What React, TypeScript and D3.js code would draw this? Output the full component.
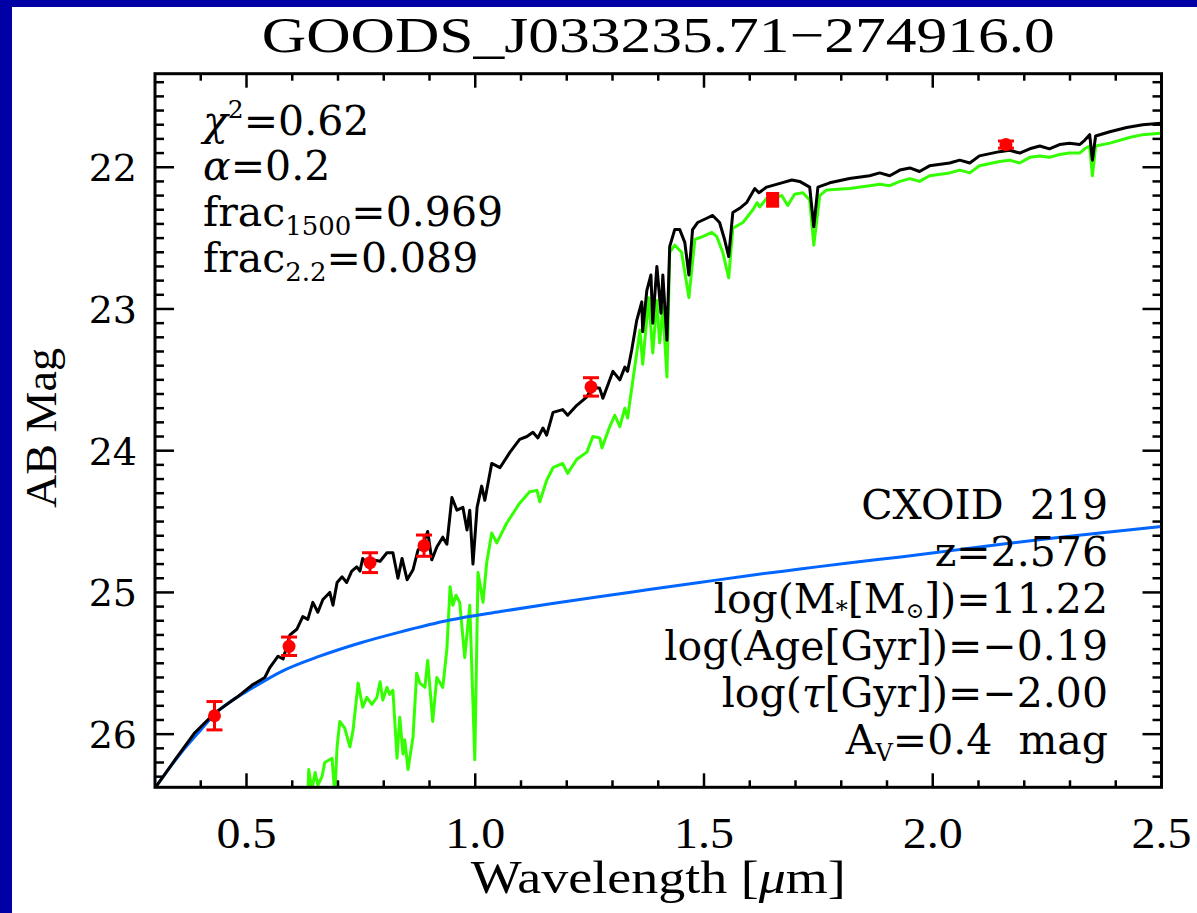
import React from 'react';
import * as d3 from 'd3';

// ---------- DATA ----------
const title = 'GOODS_J033235.71\u2212274916.0';
const xLabel = 'Wavelength [';
const yLabel = 'AB Mag';
const xDomain: [number, number] = [0.3, 2.5];
const yDomain: [number, number] = [21.34, 26.375];
const xMajorTicks = [0.5, 1.0, 1.5, 2.0, 2.5];
const xTickLabels = ['0.5', '1.0', '1.5', '2.0', '2.5'];
const yMajorTicks = [22, 23, 24, 25, 26];
const yTickLabels = ['22', '23', '24', '25', '26'];

// total model (black): [wavelength um, AB mag]
const totalModel: [number, number][] = [
  [0.300, 26.38], [0.344, 26.18], [0.387, 25.99], [0.431, 25.85], [0.479, 25.74], [0.514, 25.65],
  [0.540, 25.60], [0.551, 25.53], [0.569, 25.45], [0.580, 25.47], [0.595, 25.30], [0.610, 25.26],
  [0.623, 25.17], [0.634, 25.19], [0.645, 25.07], [0.656, 25.14], [0.667, 25.05], [0.682, 25.00],
  [0.689, 25.09], [0.698, 24.93], [0.709, 24.89], [0.719, 24.93], [0.730, 24.85], [0.741, 24.82],
  [0.748, 24.85], [0.754, 24.76], [0.763, 24.80], [0.774, 24.77], [0.792, 24.78], [0.807, 24.72],
  [0.820, 24.72], [0.831, 24.90], [0.840, 24.76], [0.851, 24.91], [0.864, 24.84], [0.875, 24.70],
  [0.886, 24.66], [0.896, 24.57], [0.905, 24.77], [0.916, 24.68], [0.929, 24.61], [0.938, 24.66],
  [0.949, 24.33], [0.960, 24.42], [0.973, 24.40], [0.982, 24.56], [0.988, 24.42], [0.995, 24.80],
  [1.004, 24.40], [1.014, 24.25], [1.021, 24.35], [1.036, 24.09], [1.054, 24.12], [1.076, 24.01],
  [1.097, 23.92], [1.113, 23.90], [1.126, 23.87], [1.137, 23.91], [1.148, 23.84], [1.156, 23.89],
  [1.170, 23.73], [1.191, 23.71], [1.202, 23.75], [1.222, 23.68], [1.244, 23.62], [1.255, 23.55],
  [1.272, 23.56], [1.279, 23.63], [1.301, 23.44], [1.316, 23.50], [1.327, 23.41], [1.333, 23.44],
  [1.342, 23.29], [1.353, 23.08], [1.364, 22.95], [1.366, 23.16], [1.375, 22.87], [1.384, 22.76],
  [1.388, 23.10], [1.397, 22.70], [1.406, 23.03], [1.410, 22.76], [1.419, 23.22], [1.425, 22.56],
  [1.436, 22.44], [1.447, 22.44], [1.458, 22.53], [1.467, 22.76], [1.475, 22.44], [1.486, 22.39],
  [1.506, 22.36], [1.519, 22.34], [1.534, 22.39], [1.545, 22.51], [1.554, 22.63], [1.563, 22.32],
  [1.578, 22.29], [1.593, 22.25], [1.611, 22.15], [1.620, 22.18], [1.637, 22.14], [1.670, 22.11],
  [1.692, 22.09], [1.709, 22.10], [1.731, 22.14], [1.740, 22.42], [1.749, 22.14], [1.775, 22.11],
  [1.818, 22.08], [1.862, 22.06], [1.884, 22.04], [1.906, 22.06], [1.928, 22.02], [1.950, 22.005],
  [1.971, 22.03], [1.993, 21.99], [2.037, 21.97], [2.059, 21.95], [2.081, 21.97], [2.102, 21.92],
  [2.146, 21.89], [2.168, 21.88], [2.190, 21.90], [2.212, 21.87], [2.234, 21.85], [2.255, 21.87],
  [2.277, 21.84], [2.299, 21.83], [2.321, 21.84], [2.332, 21.81], [2.343, 21.77], [2.349, 21.95],
  [2.356, 21.78], [2.387, 21.75], [2.424, 21.72], [2.459, 21.70], [2.498, 21.69],
];

// stellar component (green)
const stellarModel: [number, number][] = [
  [0.634, 26.45], [0.636, 26.25], [0.643, 26.39], [0.650, 26.27], [0.656, 26.36], [0.665, 26.30],
  [0.671, 26.20], [0.687, 26.17], [0.693, 26.43], [0.698, 26.09], [0.704, 25.91], [0.715, 25.96],
  [0.726, 26.09], [0.733, 25.97], [0.744, 25.64], [0.754, 25.81], [0.763, 25.74], [0.774, 25.79],
  [0.785, 25.74], [0.792, 25.63], [0.798, 25.76], [0.807, 25.67], [0.813, 25.72], [0.820, 25.69],
  [0.829, 26.17], [0.835, 25.88], [0.842, 26.14], [0.846, 26.04], [0.853, 26.25], [0.864, 26.02],
  [0.872, 25.57], [0.879, 25.64], [0.890, 25.67], [0.896, 25.48], [0.907, 25.91], [0.916, 25.60],
  [0.929, 25.67], [0.938, 25.40], [0.945, 24.96], [0.951, 25.09], [0.958, 25.02], [0.966, 25.07],
  [0.977, 25.46], [0.988, 25.09], [0.999, 26.18], [1.006, 24.86], [1.017, 25.07], [1.025, 24.79],
  [1.036, 24.58], [1.047, 24.65], [1.069, 24.51], [1.087, 24.42], [1.097, 24.37], [1.119, 24.29],
  [1.135, 24.28], [1.141, 24.36], [1.156, 24.21], [1.170, 24.12], [1.191, 24.09], [1.202, 24.16],
  [1.222, 24.06], [1.244, 24.01], [1.257, 23.90], [1.272, 23.91], [1.277, 23.98], [1.294, 23.83],
  [1.305, 23.75], [1.316, 23.83], [1.327, 23.70], [1.333, 23.77], [1.342, 23.56], [1.360, 23.15],
  [1.366, 23.39], [1.379, 22.92], [1.388, 23.31], [1.397, 22.94], [1.403, 23.24], [1.410, 22.99],
  [1.419, 23.48], [1.425, 22.60], [1.436, 22.55], [1.451, 22.60], [1.467, 22.92], [1.480, 22.51],
  [1.497, 22.49], [1.517, 22.46], [1.528, 22.49], [1.541, 22.60], [1.554, 22.78], [1.563, 22.43],
  [1.585, 22.39], [1.607, 22.30], [1.616, 22.25], [1.622, 22.28], [1.637, 22.22], [1.650, 22.22],
  [1.670, 22.20], [1.683, 22.27], [1.698, 22.19], [1.716, 22.18], [1.731, 22.23], [1.740, 22.55],
  [1.753, 22.20], [1.768, 22.16], [1.818, 22.15], [1.862, 22.13], [1.884, 22.12], [1.906, 22.13],
  [1.928, 22.10], [1.950, 22.08], [1.971, 22.10], [1.993, 22.06], [2.037, 22.04], [2.059, 22.02],
  [2.081, 22.04], [2.102, 21.99], [2.146, 21.96], [2.168, 21.95], [2.190, 21.97], [2.212, 21.93],
  [2.234, 21.92], [2.255, 21.93], [2.277, 21.91], [2.299, 21.90], [2.321, 21.90], [2.332, 21.87],
  [2.343, 21.85], [2.349, 22.06], [2.356, 21.85], [2.387, 21.83], [2.430, 21.79], [2.459, 21.77],
  [2.498, 21.76],
];

// AGN power-law component (blue)
const agnModel: [number, number][] = [
  [0.300, 26.38], [0.355, 26.14], [0.400, 25.97], [0.430, 25.86], [0.465, 25.77], [0.510, 25.68],
  [0.575, 25.56], [0.660, 25.45], [0.750, 25.355], [0.835, 25.28], [0.945, 25.195], [1.055, 25.135],
  [1.165, 25.08], [1.270, 25.03], [1.380, 24.98], [1.490, 24.93], [1.600, 24.88], [1.710, 24.835],
  [1.820, 24.79], [1.930, 24.75], [2.040, 24.705], [2.150, 24.66], [2.255, 24.62], [2.365, 24.58],
  [2.500, 24.535],
];

// photometry
const photWave = [0.430, 0.593, 0.770, 0.888, 1.253, 1.650, 2.160];
const photMag = [25.87, 25.38, 24.79, 24.67, 23.55, 22.23, 21.84];
const photErr = [0.10, 0.065, 0.07, 0.075, 0.065, 0.045, 0.025];
const photShape = ['circle', 'circle', 'circle', 'circle', 'circle', 'square', 'circle'];

// ---------- LAYOUT ----------
const W = 1197, H = 913;
const X0 = 155, X1 = 1161.5, Y0 = 73.7, Y1 = 787.3;
const C_BLACK = '#000000', C_GREEN = '#33ff00', C_BLUE = '#0066ff', C_RED = '#ff0000', C_BG = '#0000a4';
const hershey = '"Liberation Serif", serif';
const school = '"DejaVu Serif", serif';

export default function App() {
  const x = d3.scaleLinear().domain(xDomain).range([X0, X1]);
  const y = d3.scaleLinear().domain(yDomain).range([Y0, Y1]);
  const line = d3.line<[number, number]>().x(d => x(d[0])).y(d => y(d[1]));
  const smooth = d3.line<[number, number]>().x(d => x(d[0])).y(d => y(d[1])).curve(d3.curveMonotoneX);

  const xMinor = d3.range(4, 25).map(v => v / 10).filter(v => !xMajorTicks.some(m => Math.abs(m - v) < 1e-6));
  const yMinor = d3.range(214, 264).map(v => v / 10).filter(v => !yMajorTicks.some(m => Math.abs(m - v) < 1e-6));

  return (
    <svg width={W} height={H} style={{ position: 'absolute', left: 0, top: 0, background: '#fff' }}>
      <rect x={0} y={0} width={W} height={H} fill="#fff" />
      <rect x={0} y={0} width={12} height={H} fill={C_BG} />
      <rect x={0} y={0} width={W} height={7} fill={C_BG} />
      <defs>
        <clipPath id="plot">
          <rect x={X0} y={Y0} width={X1 - X0} height={Y1 - Y0} />
        </clipPath>
      </defs>

      <text x={(X0 + X1) / 2} y={52} textAnchor="middle" fontFamily={hershey} fontSize={50}
        textLength={793} lengthAdjust="spacingAndGlyphs">{title}</text>

      <g clipPath="url(#plot)" fill="none" strokeLinejoin="round" strokeLinecap="round">
        <path d={line(stellarModel) || ''} stroke={C_GREEN} strokeWidth={3} />
        <path d={smooth(agnModel) || ''} stroke={C_BLUE} strokeWidth={3} />
        <path d={line(totalModel) || ''} stroke={C_BLACK} strokeWidth={3} />
      </g>

      <g>
        {photWave.map((w, i) => {
          const cx = x(w), cy = y(photMag[i]);
          const yt = y(photMag[i] - photErr[i]), yb = y(photMag[i] + photErr[i]);
          const sq = photShape[i] === 'square';
          const hw = sq ? 6.5 : 8;
          return (
            <g key={i} stroke={C_RED} strokeWidth={3}>
              <line x1={cx} x2={cx} y1={yt} y2={yb} />
              <line x1={cx - hw} x2={cx + hw} y1={yt} y2={yt} />
              <line x1={cx - hw} x2={cx + hw} y1={yb} y2={yb} />
              {sq
                ? <rect x={cx - 6.5} y={cy - 6.5} width={13} height={13} fill={C_RED} stroke="none" />
                : <circle cx={cx} cy={cy} r={6.5} fill={C_RED} stroke="none" />}
            </g>
          );
        })}
      </g>

      {/* frame */}
      <rect x={X0} y={Y0} width={X1 - X0} height={Y1 - Y0} fill="none" stroke="#000" strokeWidth={3} />
      <g stroke="#000" strokeWidth={2.5}>
        {xMajorTicks.map(v => (
          <g key={'xm' + v}>
            <line x1={x(v)} x2={x(v)} y1={Y1} y2={Y1 - 14} />
            <line x1={x(v)} x2={x(v)} y1={Y0} y2={Y0 + 14} />
          </g>
        ))}
        {xMinor.map(v => (
          <g key={'xn' + v}>
            <line x1={x(v)} x2={x(v)} y1={Y1} y2={Y1 - 7} />
            <line x1={x(v)} x2={x(v)} y1={Y0} y2={Y0 + 7} />
          </g>
        ))}
        {yMajorTicks.map(v => (
          <g key={'ym' + v}>
            <line x1={X0} x2={X0 + 19} y1={y(v)} y2={y(v)} />
            <line x1={X1} x2={X1 - 19} y1={y(v)} y2={y(v)} />
          </g>
        ))}
        {yMinor.map(v => (
          <g key={'yn' + v}>
            <line x1={X0} x2={X0 + 9} y1={y(v)} y2={y(v)} />
            <line x1={X1} x2={X1 - 9} y1={y(v)} y2={y(v)} />
          </g>
        ))}
      </g>

      {xMajorTicks.map((v, i) => (
        <text key={'xl' + v} x={x(v)} y={848} textAnchor="middle" fontFamily={hershey} fontSize={45}
          textLength={60} lengthAdjust="spacingAndGlyphs">{xTickLabels[i]}</text>
      ))}
      {yMajorTicks.map((v, i) => (
        <text key={'yl' + v} x={137} y={y(v) + 14} textAnchor="end" fontFamily={school} fontSize={38}>{yTickLabels[i]}</text>
      ))}

      <text x={(X0 + X1) / 2} y={893} textAnchor="middle" fontFamily={hershey} fontSize={46}
        textLength={375} lengthAdjust="spacingAndGlyphs">{xLabel}<tspan fontStyle="italic">{'\u03bc'}</tspan>{'m]'}</text>
      <text transform="translate(56,428) rotate(-90)" textAnchor="middle" fontFamily={hershey} fontSize={44}
        textLength={160} lengthAdjust="spacingAndGlyphs">{yLabel}</text>

      {/* left annotations */}
      <g fontFamily={school} fontSize={41} fill="#000">
        <text x={203} y={135}>
          <tspan fontStyle="italic">{'\u03c7'}</tspan>
          <tspan dy={-17} fontSize={25}>2</tspan>
          <tspan dy={17}>=0.62</tspan>
        </text>
        <text x={203} y={180}>
          <tspan fontStyle="italic">{'\u03b1'}</tspan>=0.2
        </text>
        <text x={203} y={226}>
          frac<tspan dy={9} fontSize={26}>1500</tspan><tspan dy={-9}>=0.969</tspan>
        </text>
        <text x={203} y={272}>
          frac<tspan dy={9} fontSize={26}>2.2</tspan><tspan dy={-9}>=0.089</tspan>
        </text>
      </g>

      {/* right annotations */}
      <g fontFamily={school} fontSize={41} fill="#000" textAnchor="end">
        <text x={1108} y={519} xmlSpace="preserve">CXOID  219</text>
        <text x={1108} y={566}>z=2.576</text>
        <text x={1108} y={613}>
          log(M<tspan dy={5} fontSize={24}>*</tspan><tspan dy={-5}>[M</tspan><tspan dy={5} fontSize={22}>{'\u2299'}</tspan><tspan dy={-5}>])=11.22</tspan>
        </text>
        <text x={1108} y={660}>log(Age[Gyr])={'\u2212'}0.19</text>
        <text x={1108} y={707}>
          log(<tspan fontStyle="italic">{'\u03c4'}</tspan>[Gyr])={'\u2212'}2.00
        </text>
        <text x={1108} y={754} xmlSpace="preserve">
          A<tspan dy={7} fontSize={24}>V</tspan><tspan dy={-7}>=0.4  mag</tspan>
        </text>
      </g>
    </svg>
  );
}
